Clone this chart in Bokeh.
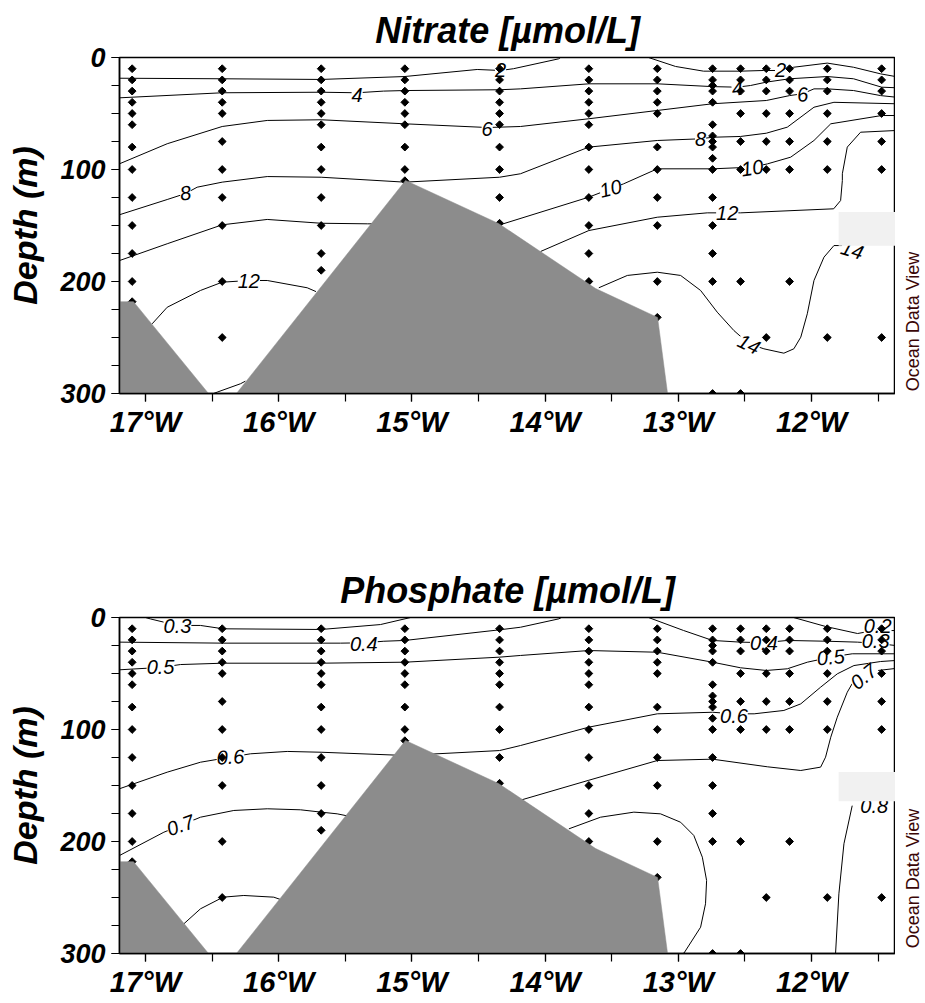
import math
from bokeh.plotting import figure
from bokeh.layouts import column, row
from bokeh.models import Range1d, FixedTicker, ColumnDataSource
from bokeh.core.properties import value
from bokeh.embed import file_html
from bokeh.resources import INLINE

FONT = "Liberation Sans"

# ---------------- axes ----------------
lon_ticks = [-17, -16, -15, -14, -13, -12]
lon_tick_labels = ["17°W", "16°W", "15°W", "14°W", "13°W", "12°W"]
lon_minor = [-17.0, -16.5, -16.0, -15.5, -15.0, -14.5, -14.0, -13.5, -13.0, -12.5, -12.0, -11.5]
depth_ticks = [0, 100, 200, 300]
depth_tick_labels = ["0", "100", "200", "300"]
depth_minor = [0, 25, 50, 75, 100, 125, 150, 175, 200, 225, 250, 275, 300]

# ---------------- stations (sample positions) ----------------
station_lon = [-17.100, -16.424, -15.681, -15.053, -14.342, -13.672, -13.158,
               -12.743, -12.533, -12.340, -12.165, -11.882, -11.474]
station_depths = [
    [10, 20, 30, 40, 50, 60, 80, 100, 125, 150, 175, 200, 218],
    [10, 20, 30, 40, 50, 75, 100, 125, 150, 200, 250],
    [10, 20, 30, 40, 50, 60, 80, 100, 125, 150, 175, 190],
    [10, 20, 30, 40, 50, 60, 80, 100, 110],
    [10, 20, 30, 40, 50, 60, 80, 100, 125, 148],
    [10, 20, 30, 40, 50, 60, 80, 100, 125, 150, 175, 200],
    [10, 20, 30, 40, 50, 80, 100, 125, 150, 200, 232],
    [10, 20, 25, 30, 40, 60, 70, 75, 80, 90, 100, 125, 150, 175, 200, 300],
    [10, 20, 30, 50, 75, 100, 200, 300],
    [10, 20, 30, 50, 75, 100, 250],
    [10, 20, 30, 50, 75, 100, 200],
    [10, 20, 30, 50, 75, 100, 250],
    [10, 20, 30, 50, 75, 100, 250],
]

# ---------------- bathymetry ----------------
bathy_left_lon = [-17.195, -17.090, -16.527, -17.195]
bathy_left_depth = [218, 218, 300, 300]
bathy_main_lon = [-16.317, -15.048, -14.350, -13.621, -13.156, -13.081, -16.317]
bathy_main_depth = [300, 109.8, 148.2, 206.3, 232.1, 300, 300]

# ---------------- nitrate contours ----------------
n2a_lon = [-17.195, -16.424, -15.681, -15.055, -14.510, -14.335, -14.237, -13.899, -13.884]
n2a_dep = [18.5, 19.0, 19.6, 17.0, 10.7, 11.6, 10.0, 1.2, 0.0]
n2b_lon = [-13.224, -13.021, -12.811, -12.533, -12.360, -12.233, -12.135, -11.882, -11.685, -11.482, -11.37]
n2b_dep = [0.0, 8.0, 12.2, 12.2, 11.6, 11.6, 8.7, 5.0, 8.7, 14.6, 17.0]
n4_lon = [-17.195, -16.424, -15.681, -15.411, -15.213, -15.053, -14.342, -14.185, -13.672, -13.158,
          -12.743, -12.558, -12.458, -12.340, -12.165, -11.882, -11.685, -11.474, -11.37]
n4_dep = [36, 31.5, 31, 31.5, 30, 29.5, 28.8, 28, 23.5, 23.5, 26, 26.5, 25, 22, 19, 17, 19, 26.5, 27]
n6_lon = [-17.195, -16.837, -16.424, -16.086, -15.681, -15.053, -14.435, -14.342, -14.185, -13.672,
          -13.158, -12.743, -12.340, -12.165, -12.068, -11.982, -11.882, -11.685, -11.482, -11.37]
n6_dep = [94.9, 77, 61.6, 56.2, 55.6, 59.2, 62.5, 62.2, 61.6, 54.7, 47.3, 41.3, 38.4, 34, 32.4, 28, 28,
          29.5, 34, 35.4]
n8_lon = [-17.195, -16.837, -16.700, -16.612, -16.424, -16.086, -15.681, -15.053, -14.342, -14.185,
          -13.672, -13.158, -12.833, -12.743, -12.533, -12.340, -12.182, -11.982, -11.832, -11.37]
n8_dep = [140.4, 126.8, 121.5, 115.8, 111.3, 106.3, 106.9, 111.3, 106.9, 103.8, 80, 74.1, 72.6, 71.2,
          70.5, 67.6, 62.2, 44.4, 40, 41.3]
n10_lon = [-17.195, -16.837, -16.424, -16.086, -15.681, -15.335, -14.342, -13.672, -13.509, -13.411,
           -13.158, -12.743, -12.445, -12.332, -12.157, -11.982, -11.856, -11.474, -11.37]
n10_dep = [181.3, 166.3, 149.4, 144.6, 148, 148.5, 149.5, 124.7, 117.2, 112.8, 99.4, 99.4, 97.9, 95, 89,
           74.1, 59.2, 51.8, 51.8]
n12a_lon = [-16.950, -16.837, -16.587, -16.424, -16.224, -16.086, -15.786, -15.72]
n12a_dep = [237.8, 223, 208, 200.6, 199.1, 199.1, 205.6, 209]
n12b_lon = [-14.034, -13.672, -13.158, -12.783, -12.533, -11.834, -11.782, -11.769, -11.769, -11.732,
            -11.632, -11.37]
n12b_dep = [173.2, 154.5, 142.6, 138.7, 138.7, 135.1, 127.7, 109.8, 103.8, 80, 66.7, 65.2]
n14_lon = [-13.597, -13.383, -13.158, -12.983, -12.833, -12.708, -12.583, -12.470, -12.358, -12.208,
           -12.133, -12.081, -12.032, -11.982, -11.907, -11.832, -11.695]
n14_dep = [205.6, 194.6, 191.7, 194.6, 208, 227.4, 243.8, 255.6, 260.1, 264, 260.1, 249.7, 228.8, 199.1,
           178.3, 167.9, 167.9]
n_arc_lon = [-16.489, -16.462, -16.287, -16.25]
n_arc_dep = [300, 298.8, 291.3, 289]

nitrate_lines = [(n2a_lon, n2a_dep), (n2b_lon, n2b_dep), (n4_lon, n4_dep), (n6_lon, n6_dep),
                 (n8_lon, n8_dep), (n10_lon, n10_dep), (n12a_lon, n12a_dep), (n12b_lon, n12b_dep),
                 (n14_lon, n14_dep), (n_arc_lon, n_arc_dep)]

nitrate_label_text = ["2", "2", "4", "4", "6", "6", "8", "8", "10", "10", "12", "12", "14"]
nitrate_label_lon = [-14.335, -12.233, -15.411, -12.558, -14.435, -12.068, -16.700, -12.833,
                     -13.509, -12.445, -16.224, -12.633, -12.470]
nitrate_label_dep = [11.6, 11.2, 33.5, 27.5, 64.0, 33.0, 121.0, 73.0, 117.0, 98.5, 199.5, 138.5, 256.0]
nitrate_label_angle = [0, 0, 0, 0.1, 0, 0.1, 0.15, 0, 0.25, 0.15, 0, 0, -0.45]
nitrate_hidden_text = ["14"]
nitrate_hidden_lon = [-11.695]
nitrate_hidden_dep = [172.0]
nitrate_hidden_angle = [-0.3]
nitrate_patch = (-11.797, -11.36, 138.0, 168.0)

# ---------------- phosphate contours ----------------
p03_lon = [-17.0, -16.962, -16.760, -16.587, -16.417, -15.681, -15.236, -15.010]
p03_dep = [0, 1.3, 7.1, 7.1, 10.1, 10.7, 6.3, 0]
p04a_lon = [-17.195, -16.417, -15.536, -15.361, -15.211, -15.053, -14.342, -14.185, -13.897, -13.877]
p04a_dep = [22, 22.9, 22.9, 22.6, 21.2, 20.5, 11, 8.7, 1.2, 0]
p04b_lon = [-13.224, -12.961, -12.743, -12.533, -12.358, -12.182, -11.882, -11.657, -11.519, -11.37]
p04b_dep = [0, 11.6, 20.5, 22, 22.5, 20.5, 21.2, 22, 23, 25]
p02_lon = [-12.135, -11.895, -11.655, -11.55, -11.37]
p02_dep = [0, 8, 14.3, 12, 11.6]
p05_lon = [-17.195, -16.887, -16.737, -16.417, -15.681, -15.053, -14.342, -14.185, -13.672, -13.158,
           -12.743, -12.533, -12.340, -12.182, -12.032, -11.856, -11.695, -11.37]
p05_dep = [46.7, 44.6, 42, 40.8, 40.8, 39.9, 35.4, 33.9, 29.5, 31, 39.9, 44.9, 47.3, 45.8, 39.9, 35.4,
           32.4, 32.4]
p06_lon = [-17.195, -16.837, -16.587, -16.362, -16.212, -15.936, -15.681, -15.053, -14.342, -14.185,
           -13.672, -13.158, -12.743, -12.583, -12.431, -12.208, -12.081, -11.932, -11.807, -11.682,
           -11.482, -11.37]
p06_dep = [152.9, 138.1, 129.2, 124.7, 121.7, 119.6, 120.3, 123.2, 118.8, 114.3, 97.9, 86, 84.6, 86, 86,
           83, 77.1, 62.2, 50.3, 42.9, 39.3, 38.4]
p07a_lon = [-17.195, -16.862, -16.737, -16.587, -16.337, -16.086, -15.836, -15.681, -15.561, -15.461]
p07a_dep = [212.5, 191.7, 185.7, 178.3, 172.3, 170.8, 171.7, 173.8, 175.3, 177.7]
p07b_lon = [-14.297, -14.185, -13.672, -13.158, -12.743, -12.332, -12.081, -11.932, -11.895, -11.856,
            -11.807, -11.732, -11.69]
p07b_dep = [166.1, 163.1, 145.3, 127.7, 126.5, 133.3, 136.6, 133.6, 124.7, 106.9, 89, 66.7, 58]
p07c_lon = [-11.50, -11.37]
p07c_dep = [47.3, 45.5]
p08a_lon = [-16.712, -16.587, -16.417, -16.262, -16.037, -15.986]
p08a_dep = [273.5, 260.1, 249.7, 248.2, 249.7, 251.8]
p08b_lon = [-13.822, -13.584, -13.334, -13.134, -12.983, -12.884, -12.820, -12.788, -12.796, -12.833,
            -12.958, -12.968]
p08b_dep = [188.7, 178.3, 173.8, 175.3, 182.8, 194.6, 214, 234.8, 255.6, 276.5, 299.7, 300]
p08c_lon = [-11.695, -11.757, -11.795, -11.820]
p08c_dep = [168, 202, 246.7, 300]

phosphate_lines = [(p03_lon, p03_dep), (p04a_lon, p04a_dep), (p04b_lon, p04b_dep), (p02_lon, p02_dep),
                   (p05_lon, p05_dep), (p06_lon, p06_dep), (p07a_lon, p07a_dep), (p07b_lon, p07b_dep),
                   (p07c_lon, p07c_dep), (p08a_lon, p08a_dep), (p08b_lon, p08b_dep), (p08c_lon, p08c_dep)]

phosphate_label_text = ["0.3", "0.4", "0.4", "0.3", "0.2", "0.5", "0.5", "0.6", "0.6", "0.7", "0.7"]
phosphate_label_lon = [-16.760, -15.361, -12.358, -11.519, -11.504, -16.887, -11.856, -16.362, -12.583,
                       -16.737, -11.609]
phosphate_label_dep = [8.0, 23.5, 23.0, 21.0, 8.0, 44.5, 35.5, 124.5, 87.5, 185.5, 52.7]
phosphate_label_angle = [0, 0, 0, 0, 0, 0, 0.1, 0.05, 0, 0.35, 0.7]
phosphate_hidden_text = ["0.8"]
phosphate_hidden_lon = [-11.53]
phosphate_hidden_dep = [168.0]
phosphate_hidden_angle = [0]
phosphate_patch = (-11.797, -11.36, 138.0, 164.0)

watermark_text = ["Ocean Data View"]


def make_fig(title, lines, lab_text, lab_lon, lab_dep, lab_ang,
             hid_text, hid_lon, hid_dep, hid_ang, patch, border_bottom):
    p = figure(frame_width=776, frame_height=336,
               x_range=Range1d(-17.195, -11.37), y_range=Range1d(300, 0),
               output_backend="svg", toolbar_location=None,
               min_border_left=119, min_border_right=0, min_border_top=57,
               min_border_bottom=border_bottom,
               background_fill_color="white", border_fill_color="white")
    p.title.text = title
    p.title.align = "center"
    p.title.text_font = FONT
    p.title.text_font_size = "36px"
    p.title.text_font_style = "bold italic"
    p.title.text_color = "black"
    p.title.standoff = 13

    p.xgrid.visible = False
    p.ygrid.visible = False
    p.outline_line_color = "black"
    p.outline_line_width = 1.5

    p.xaxis.ticker = FixedTicker(ticks=lon_ticks, minor_ticks=lon_minor)
    p.xaxis.major_label_overrides = {t: s for t, s in zip(lon_ticks, lon_tick_labels)}
    p.yaxis.ticker = FixedTicker(ticks=depth_ticks, minor_ticks=depth_minor)
    p.yaxis.major_label_overrides = {t: s for t, s in zip(depth_ticks, depth_tick_labels)}
    p.yaxis.axis_label = "Depth (m)"
    for ax in (p.xaxis[0], p.yaxis[0]):
        ax.axis_line_color = "black"
        ax.axis_line_width = 1.5
        ax.major_tick_line_color = "black"
        ax.minor_tick_line_color = "black"
        ax.major_tick_line_width = 1.2
        ax.minor_tick_line_width = 1.2
        ax.major_tick_out = 8
        ax.minor_tick_out = 8
        ax.major_tick_in = 0
        ax.minor_tick_in = 0
        ax.major_label_text_font = FONT
        ax.major_label_text_font_style = "bold italic"
        ax.major_label_text_color = "black"
    p.xaxis.major_label_text_font_size = "29px"
    p.xaxis.major_label_standoff = 4
    p.yaxis.major_label_text_font_size = "27px"
    p.yaxis.major_label_standoff = 6
    p.yaxis.axis_label_text_font = FONT
    p.yaxis.axis_label_text_font_size = "34px"
    p.yaxis.axis_label_text_font_style = "bold italic"
    p.yaxis.axis_label_text_color = "black"
    p.yaxis.axis_label_standoff = 13

    # contour lines
    for lx, ly in lines:
        p.line(lx, ly, line_color="black", line_width=1)

    # labels later covered by the smudge patch
    hsrc = ColumnDataSource(dict(x=hid_lon, y=hid_dep, t=hid_text, a=hid_ang))
    p.text(x="x", y="y", text="t", angle="a", source=hsrc, text_font=value(FONT),
           text_font_size="20px", text_font_style="italic", text_align="center",
           text_baseline="middle", text_color="black", background_fill_color="white")

    # contour labels
    src = ColumnDataSource(dict(x=lab_lon, y=lab_dep, t=lab_text, a=lab_ang))
    p.text(x="x", y="y", text="t", angle="a", source=src, text_font=value(FONT),
           text_font_size="20px", text_font_style="italic", text_align="center",
           text_baseline="middle", text_color="black", background_fill_color="white")

    # stations
    sx, sy = [], []
    for lon, deps in zip(station_lon, station_depths):
        for d in deps:
            sx.append(lon)
            sy.append(d)
    p.scatter(sx, sy, marker="square", angle=math.pi / 4, size=5.5,
              fill_color="black", line_color="black")

    # bathymetry
    p.patch(bathy_left_lon, bathy_left_depth, fill_color="#8c8c8c", line_color="#8c8c8c", line_width=0.5)
    p.patch(bathy_main_lon, bathy_main_depth, fill_color="#8c8c8c", line_color="#8c8c8c", line_width=0.5)

    # smudge patch
    l, r, t, b = patch
    p.quad(left=[l], right=[r], top=[t], bottom=[b], fill_color="#f1f1f1", line_color=None)
    return p


def make_side(height, ycenter):
    s = figure(frame_width=30, frame_height=height, x_range=Range1d(0, 30),
               y_range=Range1d(height, 0), output_backend="svg", toolbar_location=None,
               x_axis_location=None, y_axis_location=None,
               min_border_left=0, min_border_right=0, min_border_top=0, min_border_bottom=0,
               background_fill_color="white", border_fill_color="white")
    s.outline_line_color = None
    s.grid.visible = False
    s.text(x=[17], y=[ycenter], text=watermark_text, angle=math.pi / 2,
           text_font=value(FONT), text_font_size="18px", text_align="center",
           text_baseline="middle", text_color="#3a0606")
    return s


p1 = make_fig("Nitrate [µmol/L]", nitrate_lines, nitrate_label_text, nitrate_label_lon,
              nitrate_label_dep, nitrate_label_angle, nitrate_hidden_text, nitrate_hidden_lon,
              nitrate_hidden_dep, nitrate_hidden_angle, nitrate_patch, 167)
p2 = make_fig("Phosphate [µmol/L]", phosphate_lines, phosphate_label_text, phosphate_label_lon,
              phosphate_label_dep, phosphate_label_angle, phosphate_hidden_text, phosphate_hidden_lon,
              phosphate_hidden_dep, phosphate_hidden_angle, phosphate_patch, 50)
s1 = make_side(560, 264)
s2 = make_side(443, 261)

layout = column(row(p1, s1, spacing=0), row(p2, s2, spacing=0), spacing=0)
open("out.html", "w").write(file_html(layout, INLINE))
